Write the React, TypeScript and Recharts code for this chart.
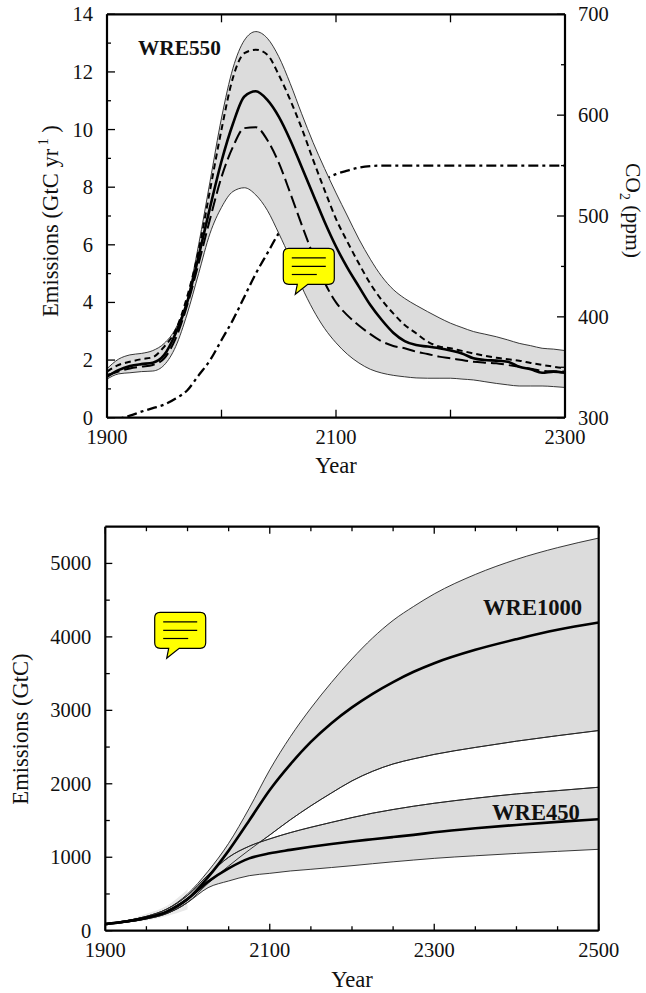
import React from "react";
import { ComposedChart, Area, Line, XAxis, YAxis } from "recharts";

// ---------- upper panel (WRE550) ----------
const yearsA = [1900,1910,1920,1930,1940,1950,1960,1970,1980,1990,2000,2010,2020,2030,2040,2050,2060,2070,2080,2090,2100,2110,2120,2130,2140,2150,2160,2170,2180,2190,2200,2210,2220,2230,2240,2250,2260,2270,2280,2290,2300];
const bandHighA = [1.7,2.03,2.18,2.23,2.33,2.58,3.1,4.1,6.0,8.2,10.4,12.13,13.1,13.4,13.17,12.53,11.6,10.55,9.55,8.65,7.8,7.0,6.2,5.5,4.9,4.45,4.14,3.9,3.68,3.47,3.28,3.13,2.99,2.9,2.81,2.7,2.58,2.5,2.41,2.38,2.33];
const bandLowA = [1.34,1.52,1.56,1.6,1.62,1.83,2.47,3.6,5.0,6.4,7.3,7.85,7.98,7.73,7.2,6.4,5.53,4.55,3.75,3.1,2.6,2.2,1.9,1.68,1.55,1.47,1.42,1.38,1.37,1.37,1.37,1.34,1.31,1.25,1.19,1.14,1.1,1.1,1.1,1.08,1.05];
const meanA = [1.42,1.65,1.79,1.86,1.91,2.18,2.93,4.0,5.6,7.3,8.9,10.2,11.15,11.33,11.03,10.45,9.64,8.7,7.75,6.8,5.94,5.2,4.55,3.91,3.39,2.95,2.66,2.52,2.47,2.41,2.33,2.23,2.06,2.0,1.98,1.94,1.77,1.68,1.56,1.6,1.56];
const shortDashA = [1.6,1.83,1.94,2.03,2.1,2.47,3.04,4.2,5.8,7.9,10.0,11.8,12.65,12.77,12.6,11.9,11.03,10.05,8.95,7.9,6.9,6.1,5.35,4.65,4.08,3.62,3.22,2.93,2.64,2.47,2.41,2.32,2.23,2.15,2.08,2.03,1.98,1.9,1.83,1.77,1.71];
const longDashA = [1.48,1.6,1.71,1.77,1.83,2.06,2.75,3.9,5.35,6.9,8.35,9.4,10.05,10.08,9.64,8.85,7.8,6.7,5.65,4.7,4.0,3.55,3.2,2.9,2.65,2.49,2.41,2.29,2.21,2.12,2.06,2.0,1.94,1.91,1.89,1.83,1.77,1.7,1.63,1.61,1.6];
const co2A = [296,298.7,302,306,309.5,313,319,327,342,357,377,397,420,443,463,483,499,513,526,536,541.5,545,548,549.5,550,550,550,550,550,550,550,550,550,550,550,550,550,550,550,550,550];

const xTicksA = [1900,2000,2100,2200,2300];
const xLabelsA = [1900,2100,2300];
const yTicksA = [0,1,2,3,4,5,6,7,8,9,10,11,12,13,14];
const yLabelsA = [0,2,4,6,8,10,12,14];
const co2Ticks = [300,350,400,450,500,550,600,650,700];
const co2Labels = [300,400,500,600,700];

// ---------- lower panel (cumulative) ----------
const yearsB = [1900,1925,1950,1975,2000,2025,2050,2075,2100,2125,2150,2175,2200,2225,2250,2275,2300,2350,2400,2450,2500];
const high1000 = [97,135,195,295,500,810,1190,1667,2190,2640,3030,3380,3700,3985,4225,4415,4585,4850,5055,5215,5345];
const mean1000 = [90,125,175,260,430,730,1090,1500,1916,2265,2570,2825,3040,3225,3385,3525,3642,3824,3969,4096,4196];
const low1000 = [85,115,160,235,385,645,881,1099,1303,1510,1700,1875,2040,2170,2270,2340,2400,2495,2580,2655,2725];
const high450 = [97,135,195,295,480,758,1000,1150,1250,1335,1408,1475,1540,1600,1650,1695,1735,1803,1862,1907,1953];
const mean450 = [90,125,175,260,430,668,849,985,1054,1100,1142,1180,1215,1245,1275,1305,1340,1395,1440,1482,1517];
const low450 = [85,115,160,235,385,586,677,749,781,813,836,860,885,912,938,962,985,1020,1052,1080,1108];
const spreadHigh = [null,140,230,340,560,null,null,null,null,null,null,null,null,null,null,null,null,null,null,null,null];
const spreadLow = [null,110,140,200,290,null,null,null,null,null,null,null,null,null,null,null,null,null,null,null,null];

const xTicksB = [1900,1950,2000,2050,2100,2150,2200,2250,2300,2350,2400,2450,2500];
const xLabelsB = [1900,2100,2300,2500];
const yTicksB = [0,500,1000,1500,2000,2500,3000,3500,4000,4500,5000];
const yLabelsB = [0,1000,2000,3000,4000,5000];

const rowsA = yearsA.map((year, i) => ({
  year,
  band: [bandLowA[i], bandHighA[i]],
  mean: meanA[i],
  shortDash: shortDashA[i],
  longDash: longDashA[i],
  co2: co2A[i],
}));
const rowsB = yearsB.map((year, i) => ({
  year,
  band1000: [low1000[i], high1000[i]],
  band450: [low450[i], high450[i]],
  spread: spreadHigh[i] == null ? null : [spreadLow[i], spreadHigh[i]],
  mean1000: mean1000[i],
  mean450: mean450[i],
  low1000: low1000[i],
  high450: high450[i],
}));

const FONT = "'Liberation Serif', 'Times New Roman', serif";
const FS = 20.5;
const TITLE = 22.6;
const INK = "#111";

type Side = "bottom" | "top" | "left" | "right";
const makeTick = (side: Side, labels: number[], major: number[], longLen: number, shortLen: number) => (p: any) => {
  const v = p.payload.value;
  const len = major.includes(v) ? longLen : shortLen;
  const { x, y } = p;
  const showLabel = labels.includes(v);
  if (side === "bottom" || side === "top") {
    const y2 = side === "bottom" ? y - len : y + len;
    return (
      <g>
        <line x1={x} y1={y} x2={x} y2={y2} stroke="#000" strokeWidth={1.3} />
        {showLabel && side === "bottom" && (
          <text x={x} y={y + 26} textAnchor="middle" fontFamily={FONT} fontSize={FS} fill={INK}>{v}</text>
        )}
      </g>
    );
  }
  const x2 = side === "left" ? x + len : x - len;
  return (
    <g>
      <line x1={x} y1={y} x2={x2} y2={y} stroke="#000" strokeWidth={1.3} />
      {showLabel && side === "left" && (
        <text x={x - 14} y={y + 7} textAnchor="end" fontFamily={FONT} fontSize={FS} fill={INK}>{v}</text>
      )}
      {showLabel && side === "right" && (
        <text x={x + 13} y={y + 7} textAnchor="start" fontFamily={FONT} fontSize={FS} fill={INK}>{v}</text>
      )}
    </g>
  );
};

const axisLine = { stroke: "#000", strokeWidth: 2.2 };
const axisCommon = { axisLine, tickLine: false, tickSize: 0, tickMargin: 0, interval: 0 as const };
const bandStyle = { stroke: "#222", strokeWidth: 0.9, fill: "#dcdcdc", fillOpacity: 1 };

const Balloon = ({ x, y }: { x: number; y: number }) => (
  <g transform={`translate(${x},${y})`}>
    <path
      d="M5.5 0 H45.5 Q51 0 51 5.5 V30.5 Q51 36 45.5 36 H24.5 L12 46 L14 36 H5.5 Q0 36 0 30.5 V5.5 Q0 0 5.5 0 Z"
      fill="#ffff00"
      stroke="#000"
      strokeWidth={1.2}
    />
    <line x1={8.5} x2={42.5} y1={9.5} y2={9.5} stroke="#000" strokeWidth={1.2} />
    <line x1={8.5} x2={42.5} y1={18} y2={18} stroke="#000" strokeWidth={1.2} />
    <line x1={8.5} x2={33.5} y1={26.2} y2={26.2} stroke="#000" strokeWidth={1.2} />
  </g>
);

export default function App() {
  return (
    <div style={{ position: "absolute", left: 0, top: 0, width: 646, height: 993, background: "#fff" }}>
      <div style={{ position: "absolute", left: 0, top: 0 }}>
        <ComposedChart width={646} height={480} data={rowsA} margin={{ top: 13.3, right: 0, bottom: 0, left: 0 }}>
          <XAxis dataKey="year" type="number" domain={[1900, 2300]} ticks={xTicksA} height={62.3} {...axisCommon}
            tick={makeTick("bottom", xLabelsA, xTicksA, 8, 5)} />
          <XAxis xAxisId="top" orientation="top" dataKey="year" type="number" domain={[1900, 2300]} ticks={xTicksA} height={1} {...axisCommon}
            tick={makeTick("top", [], xTicksA, 8, 5)} />
          <YAxis yAxisId="em" type="number" domain={[0, 14]} ticks={yTicksA} width={107} {...axisCommon}
            tick={makeTick("left", yLabelsA, yLabelsA, 8, 4)} />
          <YAxis yAxisId="co2" orientation="right" type="number" domain={[300, 700]} allowDataOverflow ticks={co2Ticks} width={81} {...axisCommon}
            tick={makeTick("right", co2Labels, co2Labels, 8, 4)} />
          <Line yAxisId="co2" dataKey="co2" type="monotone" stroke="#000" strokeWidth={2.3} strokeDasharray="10 4 3 4" dot={false} activeDot={false} isAnimationActive={false} zIndex={90} />
          <Area yAxisId="em" dataKey="band" type="monotone" {...bandStyle} dot={false} activeDot={false} isAnimationActive={false} />
          <Line yAxisId="em" dataKey="shortDash" type="monotone" stroke="#000" strokeWidth={2} strokeDasharray="6 4" dot={false} activeDot={false} isAnimationActive={false} />
          <Line yAxisId="em" dataKey="longDash" type="monotone" stroke="#000" strokeWidth={2} strokeDasharray="13 5" dot={false} activeDot={false} isAnimationActive={false} />
          <Line yAxisId="em" dataKey="mean" type="monotone" stroke="#000" strokeWidth={2.6} dot={false} activeDot={false} isAnimationActive={false} />
        </ComposedChart>
      </div>
      <div style={{ position: "absolute", left: 0, top: 510 }}>
        <ComposedChart width={646} height={483} data={rowsB} margin={{ top: 15.7, right: 0, bottom: 0, left: 0 }}>
          <XAxis dataKey="year" type="number" domain={[1900, 2500]} ticks={xTicksB} height={62.3} {...axisCommon}
            tick={makeTick("bottom", xLabelsB, xLabelsB, 7, 4.5)} />
          <XAxis xAxisId="top" orientation="top" dataKey="year" type="number" domain={[1900, 2500]} ticks={xTicksB} height={1} {...axisCommon}
            tick={makeTick("top", [], xLabelsB, 7, 4.5)} />
          <YAxis yAxisId="em" type="number" domain={[0, 5500]} ticks={yTicksB} width={105.3} {...axisCommon}
            tick={makeTick("left", yLabelsB, yLabelsB, 7, 4.5)} />
          <YAxis yAxisId="emR" orientation="right" type="number" domain={[0, 5500]} ticks={yTicksB} width={47.3} {...axisCommon}
            tick={makeTick("right", [], yLabelsB, 7, 4.5)} />
          <Area yAxisId="em" dataKey="spread" type="monotone" stroke="none" fill="#e9e9e9" fillOpacity={1} dot={false} activeDot={false} isAnimationActive={false} />
          <Area yAxisId="em" dataKey="band1000" type="monotone" {...bandStyle} dot={false} activeDot={false} isAnimationActive={false} />
          <Area yAxisId="em" dataKey="band450" type="monotone" {...bandStyle} dot={false} activeDot={false} isAnimationActive={false} />
          <Line yAxisId="em" dataKey="low1000" type="monotone" stroke="#222" strokeWidth={0.9} dot={false} activeDot={false} isAnimationActive={false} />
          <Line yAxisId="em" dataKey="high450" type="monotone" stroke="#222" strokeWidth={0.9} dot={false} activeDot={false} isAnimationActive={false} />
          <Line yAxisId="em" dataKey="mean1000" type="monotone" stroke="#000" strokeWidth={2.6} dot={false} activeDot={false} isAnimationActive={false} />
          <Line yAxisId="em" dataKey="mean450" type="monotone" stroke="#000" strokeWidth={2.6} dot={false} activeDot={false} isAnimationActive={false} />
        </ComposedChart>
      </div>
      <svg width={646} height={993} style={{ position: "absolute", left: 0, top: 0, pointerEvents: "none" }} fontFamily={FONT} fill={INK}>
        <text x={138} y={55} fontSize={21.3} fontWeight="bold">WRE550</text>
        <text x={336} y={473} fontSize={TITLE} textAnchor="middle">Year</text>
        <text transform="translate(58,317) rotate(-90)" fontSize={TITLE}>
          Emissions (GtC yr
          <tspan dy={-10} fontSize={14}> 1</tspan>
          <tspan dy={10}>  )</tspan>
        </text>
        <text transform="translate(626,163) rotate(90)" fontSize={21.5}>
          CO
          <tspan dy={6} fontSize={14}>2</tspan>
          <tspan dy={-6}> (ppm)</tspan>
        </text>
        <Balloon x={283.3} y={248.3} />

        <text x={483} y={615} fontSize={22.6} fontWeight="bold">WRE1000</text>
        <text x={492} y={820} fontSize={22.6} fontWeight="bold">WRE450</text>
        <text x={352} y={987} fontSize={TITLE} textAnchor="middle">Year</text>
        <text transform="translate(28,729) rotate(-90)" fontSize={TITLE} textAnchor="middle">Emissions (GtC)</text>
        <Balloon x={154.7} y={612.3} />
      </svg>
    </div>
  );
}
